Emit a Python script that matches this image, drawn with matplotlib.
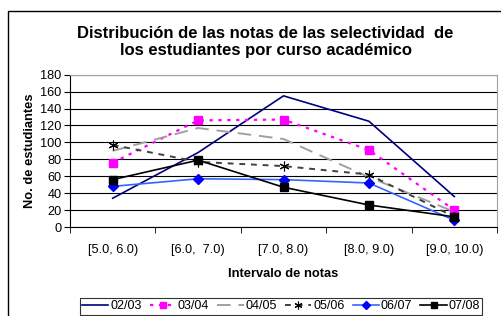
import matplotlib.pyplot as plt
from matplotlib.patches import Rectangle

plt.rcParams['font.family'] = ['Liberation Sans', 'DejaVu Sans']

intervalos = ["[5.0, 6.0)", "[6.0,  7.0)", "[7.0, 8.0)", "[8.0, 9.0)", "[9.0, 10.0)"]
cursos = ["02/03", "03/04", "04/05", "05/06", "06/07", "07/08"]
v_0203 = [34, 88, 155, 125, 36]
v_0304 = [76, 126, 127, 91, 20]
v_0405 = [90, 117, 104, 59, 18]
v_0506 = [97, 77, 72, 62, 12]
v_0607 = [48, 57, 56, 52, 8]
v_0708 = [56, 79, 47, 26, 12]

series = [v_0203, v_0304, v_0405, v_0506, v_0607, v_0708]
estilos = [
    dict(color="#000080", ls="-", lw=1.2),
    dict(color="#FF00FF", ls=(0, (1.5, 2.5)), lw=1.6, marker="s", ms=6,
         mfc="#FF00FF", mec="#FF00FF"),
    dict(color="#A0A0A0", ls=(0, (7, 4)), lw=1.4),
    dict(color="#404040", ls=(0, (3, 3)), lw=1.4, marker=(6, 2, 0), ms=7,
         mec="black", mew=0.8),
    dict(color="#3366FF", ls="-", lw=1.2, marker="D", ms=5,
         mfc="#0000FF", mec="#0000FF"),
    dict(color="black", ls="-", lw=1.2, marker="s", ms=6,
         mfc="black", mec="black"),
]

fig = plt.figure(figsize=(5.01, 3.16), dpi=100)
ax = fig.add_axes([70 / 501, 1 - 227 / 316, 427 / 501, 152.3 / 316])

x = list(range(len(intervalos)))
for vals, nombre, st in zip(series, cursos, estilos):
    ax.plot(x, vals, label=nombre, **st)

ax.set_xlim(-0.5, 4.5)
ax.set_ylim(0, 180)
ax.set_yticks(range(0, 181, 20))
ax.yaxis.grid(True, color="black", lw=0.8)
ax.set_axisbelow(True)
ax.set_xticks(x)
ax.set_xticklabels(intervalos, fontsize=9.2)
ax.set_xticks([i - 0.5 for i in range(6)], minor=True)
ax.tick_params(axis="x", which="major", length=0, pad=12)
ax.tick_params(axis="x", which="minor", length=4, color="black")
ax.tick_params(axis="y", labelsize=9.2, length=4, pad=2)
for s in ["top", "right"]:
    ax.spines[s].set_color("#A0A0A0")
ax.set_ylabel("No. de estudiantes", fontsize=9.3, fontweight="bold", labelpad=3)
ax.set_xlabel("Intervalo de notas", fontsize=9.3, fontweight="bold", labelpad=9)

fig.text(0.53, 1 - 42 / 316,
         "Distribución de las notas de las selectividad  de\nlos estudiantes por curso académico",
         ha="center", va="center", fontsize=12, fontweight="bold", linespacing=1.25)

leg = ax.legend(loc="center", bbox_to_anchor=((281 - 70) / 427, (227 - 306) / 152.3),
                ncol=6, fontsize=9, frameon=True, fancybox=False, edgecolor="black",
                handlelength=2.1, handletextpad=0.15, columnspacing=0.65, borderpad=0.2,
                borderaxespad=0, markerscale=0.8)
leg.get_frame().set_linewidth(0.8)

fig.patches.append(Rectangle((8 / 501, -0.05), 1.05, 1 - 11 / 316 + 0.05,
                             transform=fig.transFigure, fill=False,
                             edgecolor="black", lw=1.0))

fig.savefig("out.png", dpi=100)
